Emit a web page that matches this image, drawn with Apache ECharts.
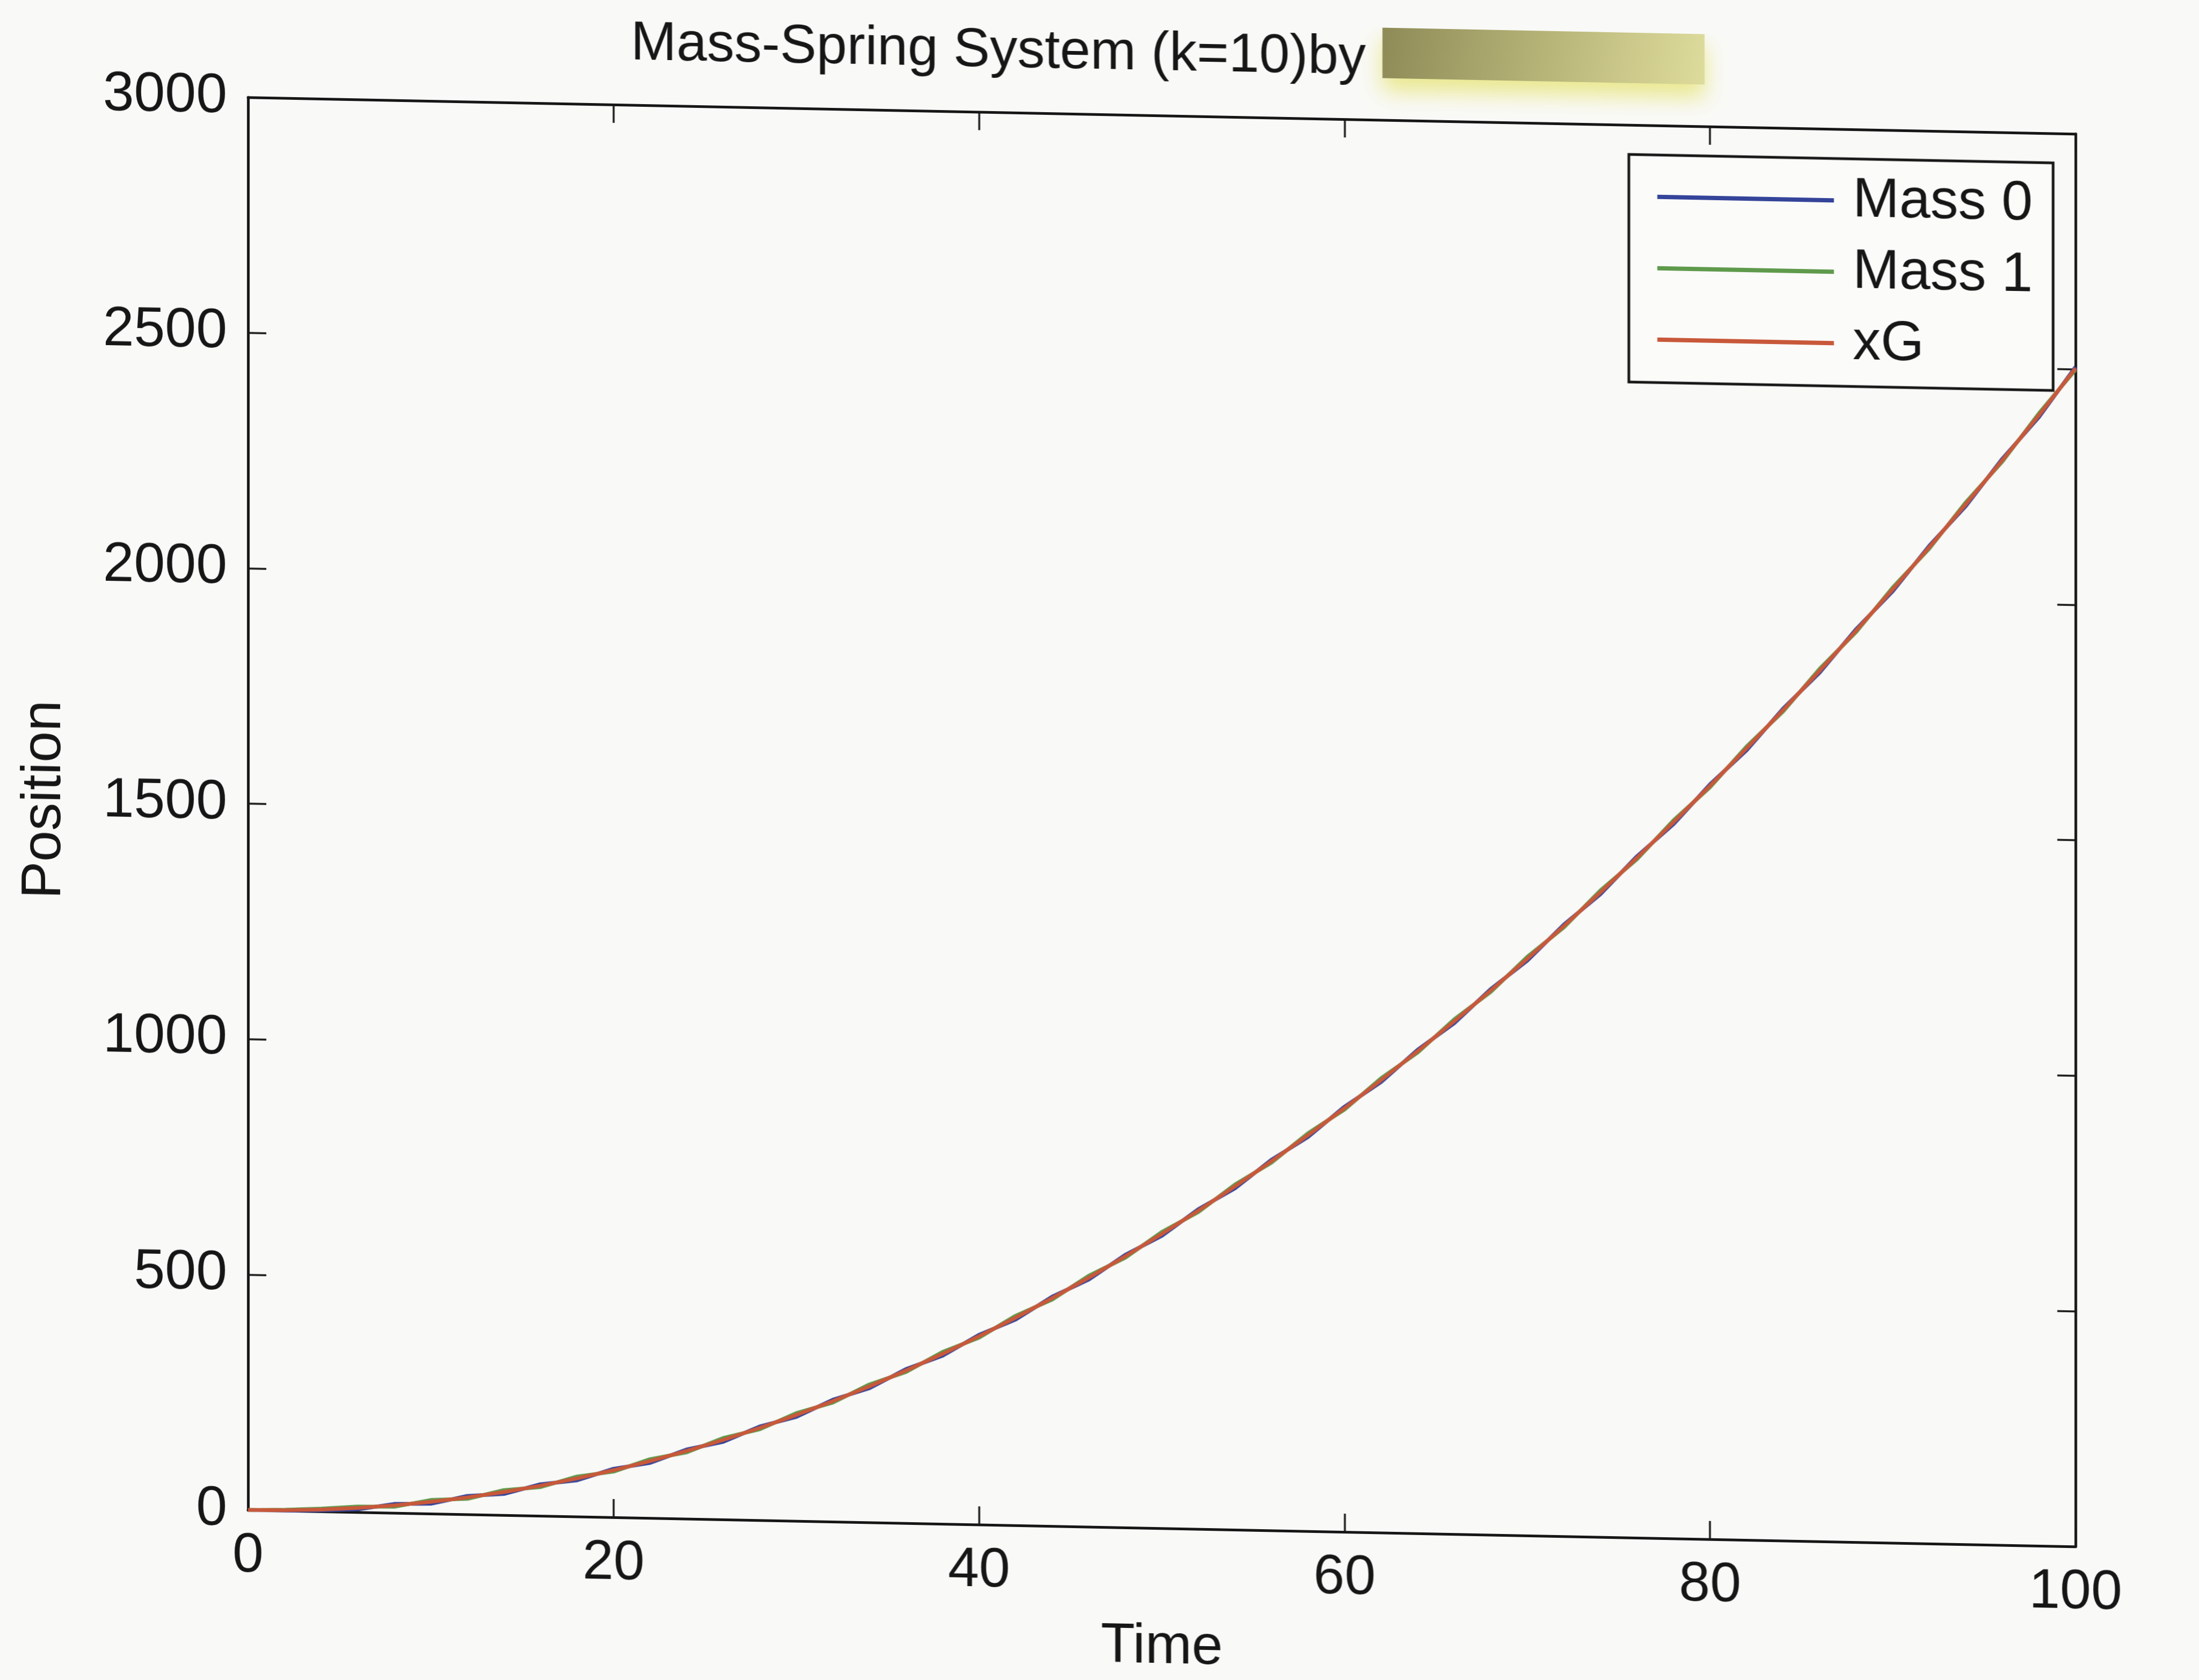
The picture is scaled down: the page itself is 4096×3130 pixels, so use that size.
<!DOCTYPE html>
<html><head><meta charset="utf-8">
<script src="https://cdn.jsdelivr.net/npm/echarts@6/dist/echarts.min.js"></script>
<style>
html,body{margin:0;padding:0;background:#f9f9f7;overflow:hidden;width:4096px;height:3130px}
#chart{width:4096px;height:3130px;transform:skewY(1.146deg);transform-origin:0 0;}
</style></head><body><div id="chart"></div>
<script>
// ---- data ----
const titleText = 'Mass-Spring System (k=10)by';
const xAxisName = 'Time';
const yAxisName = 'Position';
const seriesNames = ['Mass 0', 'Mass 1', 'xG'];
const xTicks = [0, 20, 40, 60, 80, 100];
const yTicks = [0, 500, 1000, 1500, 2000, 2500, 3000];
const timeValues = [0,2,4,6,8,10,12,14,16,18,20,22,24,26,28,30,32,34,36,38,40,42,44,46,48,50,52,54,56,58,60,62,64,66,68,70,72,74,76,78,80,82,84,86,88,90,92,94,96,98,100];
const xGValues = [0,1,4,9,16,25,36,49,64,81,100,121,144,169,196,225,256,289,324,361,400,441,484,529,576,625,676,729,784,841,900,961,1024,1089,1156,1225,1296,1369,1444,1521,1600,1681,1764,1849,1936,2025,2116,2209,2304,2401,2502];
const mass0Values = [0,0,2,6,19,21,39,45,67,77,103,117,147,165,199,221,259,285,327,357,403,437,487,525,579,621,679,725,787,837,903,957,1027,1085,1159,1221,1299,1365,1447,1517,1603,1677,1767,1845,1939,2021,2119,2205,2307,2397,2505];
const mass1Values = [0,2,6,12,13,29,33,53,61,85,97,125,141,173,193,229,253,293,321,365,397,445,481,533,573,629,673,733,781,845,897,965,1021,1093,1153,1229,1293,1373,1441,1525,1597,1685,1761,1853,1933,2029,2113,2213,2301,2405,2499];

// ---- styling ----
const FONT = 'Liberation Sans, Arial, Helvetica, sans-serif';
const INK = '#161616';
const colors = ['#34449a', '#5f9a4c', '#c8583a'];
const pairs = arr => timeValues.map((t, i) => [t, arr[i]]);
const seriesValues = [mass0Values, mass1Values, xGValues];

const frameAxis = (extra) => Object.assign({
  type: 'value',
  axisLine: { show: true, onZero: false, lineStyle: { color: INK, width: 5 } },
  axisTick: { show: true, inside: true, length: 34, lineStyle: { color: INK, width: 3.5 } },
  splitLine: { show: false },
  axisLabel: { show: false }
}, extra);

const chart = echarts.init(document.getElementById('chart'), null, { renderer: 'canvas' });
chart.setOption({
  backgroundColor: '#f9f9f7',
  animation: false,
  title: {
    text: titleText, left: 1175, top: 8, padding: 0,
    textStyle: { fontSize: 102, fontWeight: 'normal', color: INK, fontFamily: FONT }
  },
  graphic: [{
    type: 'rect', shape: { x: 2575, y: -2, width: 600, height: 96 },
    style: {
      fill: new echarts.graphic.LinearGradient(0, 0, 1, 1, [
        { offset: 0, color: '#8e8b58' }, { offset: 0.5, color: '#b7b478' }, { offset: 1, color: '#dedc9c' }
      ]),
      shadowBlur: 40, shadowColor: 'rgba(232,230,130,0.9)', shadowOffsetY: 24
    }
  }],
  grid: { left: 462, right: 230, top: 172, bottom: 326, containLabel: false },
  legend: {
    orient: 'vertical', left: 3034, top: 227,
    padding: [26, 38, 28, 53], itemGap: 29, itemWidth: 329, itemHeight: 8, icon: 'rect',
    borderColor: INK, borderWidth: 5, backgroundColor: '#fbfbf9',
    textStyle: { fontSize: 104, color: INK, fontFamily: FONT, lineHeight: 100, padding: [0, 0, 0, 30] },
    data: seriesNames
  },
  xAxis: [
    frameAxis({
      position: 'bottom', min: xTicks[0], max: xTicks[xTicks.length - 1], interval: xTicks[1] - xTicks[0],
      axisLabel: { show: true, fontSize: 104, color: INK, fontFamily: FONT, margin: 34, formatter: v => String(v) },
      name: xAxisName, nameLocation: 'middle', nameGap: 170,
      nameTextStyle: { fontSize: 104, color: INK, fontFamily: FONT }
    }),
    frameAxis({ position: 'top', min: xTicks[0], max: xTicks[xTicks.length - 1], interval: xTicks[1] - xTicks[0] })
  ],
  yAxis: [
    frameAxis({
      position: 'left', min: yTicks[0], max: yTicks[yTicks.length - 1], interval: yTicks[1] - yTicks[0],
      axisLabel: { show: true, fontSize: 104, color: INK, fontFamily: FONT, margin: 39, formatter: v => String(v) },
      name: yAxisName, nameLocation: 'middle', nameGap: 327, nameRotate: 90,
      nameTextStyle: { fontSize: 104, color: INK, fontFamily: FONT }
    }),
    frameAxis({ position: 'right', min: yTicks[0], max: yTicks[yTicks.length - 1], interval: yTicks[1] - yTicks[0] })
  ],
  series: seriesNames.map((name, i) => ({
    name, type: 'line', xAxisIndex: 0, yAxisIndex: 0,
    data: pairs(seriesValues[i]),
    showSymbol: false, symbol: 'none', smooth: false, clip: true,
    lineStyle: { color: colors[i], width: 7 },
    itemStyle: { color: colors[i] },
    z: 2 + i
  }))
});
</script></body></html>
